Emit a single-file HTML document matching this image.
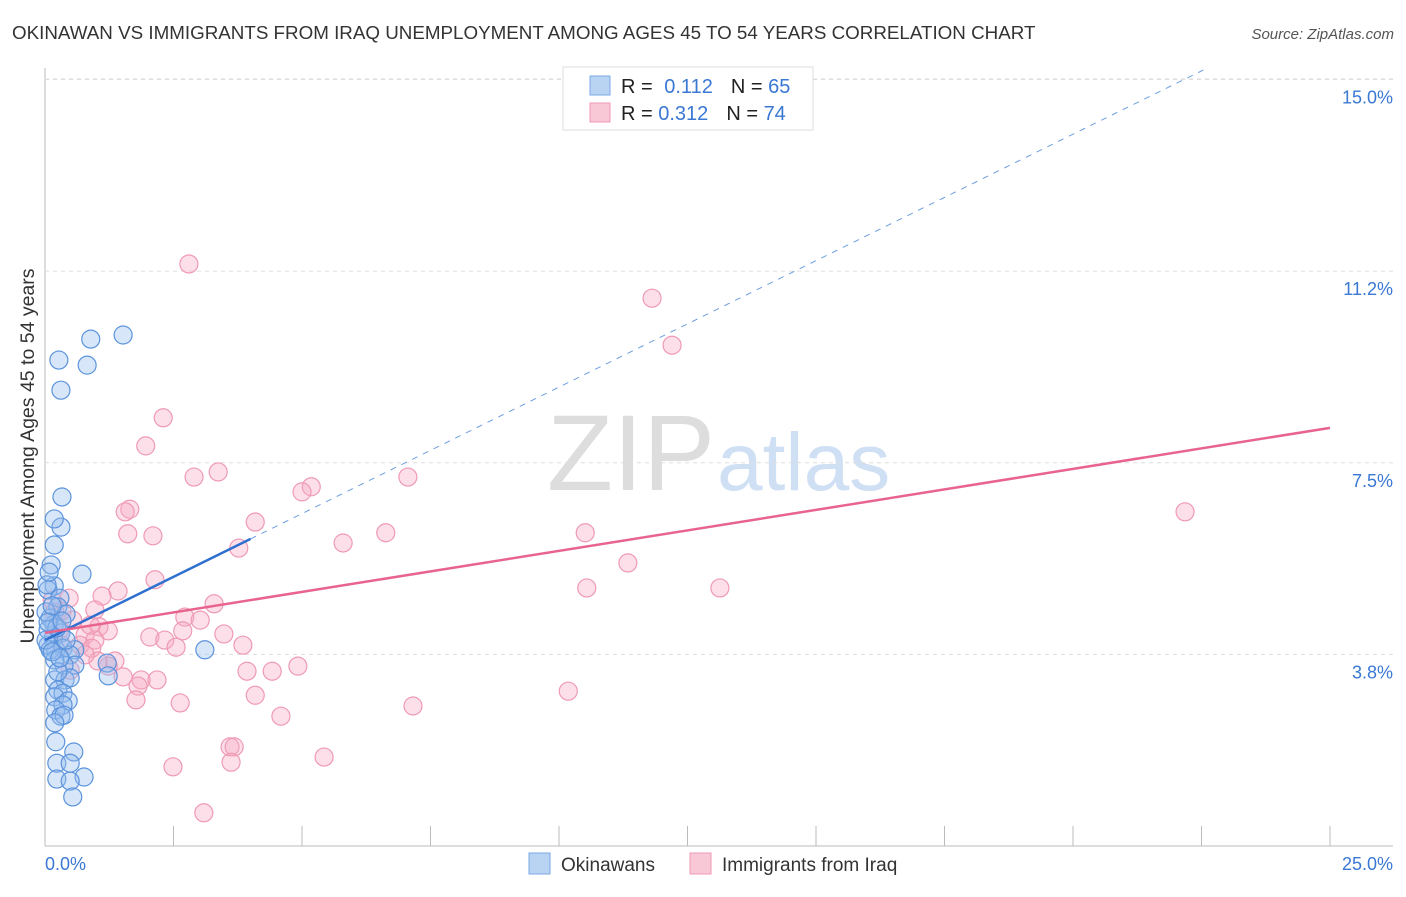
<!DOCTYPE html>
<html><head><meta charset="utf-8"><style>
body{margin:0;background:#fff;font-family:"Liberation Sans",sans-serif;}
svg text{font-family:"Liberation Sans",sans-serif;}
</style></head><body>
<svg id="c" width="1406" height="892">
<text x="12" y="39" font-size="18.8" fill="#333">OKINAWAN VS IMMIGRANTS FROM IRAQ UNEMPLOYMENT AMONG AGES 45 TO 54 YEARS CORRELATION CHART</text>
<text x="1394" y="39" font-size="15" fill="#555" font-style="italic" text-anchor="end">Source: ZipAtlas.com</text>
<text x="715" y="490" font-size="108" fill="#ddd" text-anchor="end" font-family="Liberation Serif">ZIP</text>
<text x="717" y="490" font-size="82" fill="#cfe0f5">atlas</text>
<text transform="translate(34,456) rotate(-90)" font-size="19.5" fill="#333" text-anchor="middle">Unemployment Among Ages 45 to 54 years</text>
<g id="grid"></g><g id="pts"></g><g id="lines"></g>
<g>
<rect x="563" y="67" width="250" height="63" fill="#fff" stroke="#ddd"/>
<rect x="590" y="76" width="20" height="19" fill="#b9d3f3" stroke="#7aa8e6"/>
<rect x="590" y="103" width="20" height="19" fill="#f9c8d6" stroke="#ee9ab4"/>
<text x="621" y="93" font-size="20" fill="#222">R = <tspan fill="#3a78d4" dx="6">0.112</tspan><tspan dx="18" fill="#222">N = </tspan><tspan fill="#3a78d4">65</tspan></text>
<text x="621" y="120" font-size="20" fill="#222">R = <tspan fill="#3a78d4">0.312</tspan><tspan dx="18" fill="#222">N = </tspan><tspan fill="#3a78d4">74</tspan></text>
</g>
<g>
<rect x="529" y="853" width="21" height="21" fill="#b9d3f3" stroke="#7aa8e6"/>
<text x="561" y="871" font-size="19" fill="#333">Okinawans</text>
<rect x="690" y="853" width="21" height="21" fill="#f9c8d6" stroke="#ee9ab4"/>
<text x="722" y="871" font-size="19" fill="#333">Immigrants from Iraq</text>
</g>
<text x="45" y="870" font-size="18" fill="#3a78d4">0.0%</text>
<text x="1393" y="870" font-size="18" fill="#3a78d4" text-anchor="end">25.0%</text>
</svg>
<script>
const yTicks=[3.75,7.5,11.25,15];
const yTickLabels=["3.8%","7.5%","11.2%","15.0%"];
const xTicks=[0,2.5,5,7.5,10,12.5,15,17.5,20,22.5,25];
const bluePx=[[123,335],[91,339],[59,360],[87,365],[61,390],[62,497],[61,527],[54,519],[54,545],[82,574],[51,565],[54,586],[48,590],[60,598],[58,607],[66,614],[50,618],[54,624],[61,633],[53,638],[48,645],[56,650],[63,648],[75,650],[70,655],[205,650],[75,665],[64,665],[107,663],[108,676],[55,680],[65,680],[70,678],[58,690],[63,693],[55,697],[68,701],[63,705],[56,710],[61,716],[64,715],[55,723],[56,742],[74,752],[57,763],[70,763],[84,777],[57,779],[70,781],[73,797],[48,630],[50,650],[46,612],[52,606],[46,640],[55,660],[58,672],[66,640],[52,652],[60,658],[47,585],[49,572],[57,628],[48,622],[62,621]];
const pinkPx=[[189,264],[652,298],[672,345],[163,418],[146,446],[194,477],[218,472],[408,477],[311,487],[302,492],[130,509],[125,512],[255,522],[128,534],[153,536],[239,548],[343,543],[386,533],[585,533],[155,580],[628,563],[587,588],[720,588],[118,591],[102,596],[214,604],[185,617],[200,620],[99,627],[108,631],[150,637],[165,640],[176,647],[183,631],[224,634],[243,645],[85,635],[95,640],[80,645],[92,648],[73,620],[62,611],[69,598],[115,661],[108,666],[98,661],[247,671],[272,671],[298,666],[123,677],[141,680],[157,680],[138,686],[255,695],[136,700],[180,703],[281,716],[568,691],[413,706],[230,747],[234,747],[231,762],[324,757],[173,767],[204,813],[1185,512],[95,610],[55,612],[60,630],[85,655],[70,670],[52,600],[90,625],[62,645]];
const blueX=bluePx.map(p=>+((p[0]-45)/51.4).toFixed(2));
const blueY=bluePx.map(p=>+((846-p[1])/51.1).toFixed(2));
const pinkX=pinkPx.map(p=>+((p[0]-45)/51.4).toFixed(2));
const pinkY=pinkPx.map(p=>+((846-p[1])/51.1).toFixed(2));
const blueFit=[4.03,0.495]; const pinkFit=[4.17,0.1605];
const X=v=>45+51.4*v, Y=v=>846-51.1*v;
const NS="http://www.w3.org/2000/svg";
function mk(t,a,p){const e=document.createElementNS(NS,t);for(const k in a)e.setAttribute(k,a[k]);p.appendChild(e);return e;}
const g=document.getElementById('grid');
mk('line',{x1:45,y1:68,x2:45,y2:846,stroke:'#bbb'},g);
mk('line',{x1:45,y1:846,x2:1393,y2:846,stroke:'#bbb'},g);
yTicks.forEach((v,i)=>{
 const l=mk('line',{x1:45,y1:Y(v),x2:1393,y2:Y(v),stroke:'#ddd','stroke-dasharray':'4,4'},g);
 
 
 const t=mk('text',{x:1393,y:Y(v)+24,'font-size':18,fill:'#3a78d4','text-anchor':'end'},g);t.textContent=yTickLabels[i];
 
 
});
mk('line',{x1:45,y1:79,x2:1393,y2:79,stroke:'#ddd','stroke-dasharray':'4,4'},g);
xTicks.forEach(v=>{if(v===0)return;const l=mk('line',{x1:X(v),y1:826,x2:X(v),y2:846,stroke:'#bbb'},g);
 
 });
const P=document.getElementById('pts');
pinkX.forEach((x,i)=>{const c=mk('circle',{cx:X(x),cy:Y(pinkY[i]),r:9,fill:'rgba(246,170,195,0.38)',stroke:'#ef9ab5','stroke-width':1.2},P);
 
 });
blueX.forEach((x,i)=>{const c=mk('circle',{cx:X(x),cy:Y(blueY[i]),r:9,fill:'rgba(150,190,240,0.38)',stroke:'#5b93dc','stroke-width':1.2},P);
 
 });
const L=document.getElementById('lines');
const bEnd=(15.2-blueFit[0])/blueFit[1];
let a=mk('line',{x1:X(0),y1:Y(blueFit[0]),x2:X(4),y2:Y(blueFit[0]+4*blueFit[1]),stroke:'#2f6fd0','stroke-width':2.5},L);


a=mk('line',{x1:X(4),y1:Y(blueFit[0]+4*blueFit[1]),x2:X(bEnd),y2:Y(15.2),stroke:'#6d9ee0','stroke-width':1,'stroke-dasharray':'6,6'},L);


a=mk('line',{x1:X(0),y1:Y(pinkFit[0]),x2:X(25),y2:Y(pinkFit[0]+25*pinkFit[1]),stroke:'#e8648e','stroke-width':2.5},L);


</script>
</body></html>
